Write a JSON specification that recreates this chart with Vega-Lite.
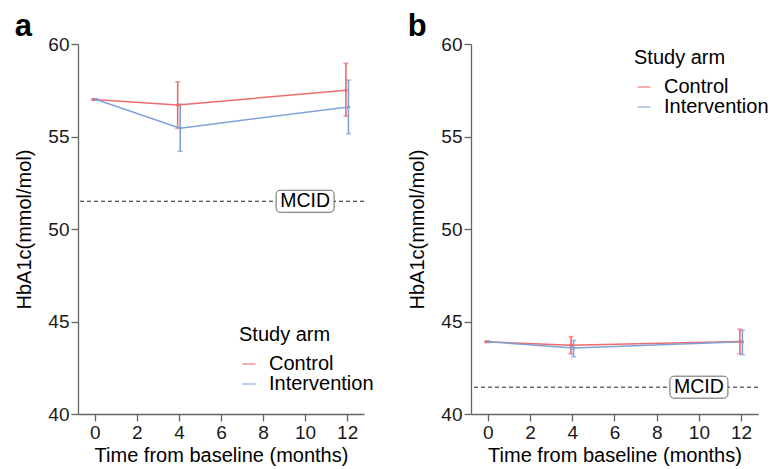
{
  "$schema": "https://vega.github.io/schema/vega-lite/v6.json",
  "background": "white",
  "padding": {"left": 14, "top": 11, "right": 5, "bottom": 5},
  "datasets": {
    "arms": [
      {"panel": "a", "arm": "Control", "time": 0, "mean": 57.0, "lo": 57.0, "hi": 57.0},
      {"panel": "a", "arm": "Control", "time": 4, "mean": 56.7, "lo": 55.45, "hi": 57.95},
      {"panel": "a", "arm": "Control", "time": 12, "mean": 57.5, "lo": 56.1, "hi": 58.95},
      {"panel": "a", "arm": "Intervention", "time": 0, "mean": 57.0, "lo": 57.0, "hi": 57.0},
      {"panel": "a", "arm": "Intervention", "time": 4, "mean": 55.45, "lo": 54.2, "hi": 56.75},
      {"panel": "a", "arm": "Intervention", "time": 12, "mean": 56.6, "lo": 55.15, "hi": 58.05},
      {"panel": "b", "arm": "Control", "time": 0, "mean": 43.9, "lo": 43.9, "hi": 43.9},
      {"panel": "b", "arm": "Control", "time": 4, "mean": 43.72, "lo": 43.25, "hi": 44.18},
      {"panel": "b", "arm": "Control", "time": 12, "mean": 43.92, "lo": 43.25, "hi": 44.58},
      {"panel": "b", "arm": "Intervention", "time": 0, "mean": 43.9, "lo": 43.9, "hi": 43.9},
      {"panel": "b", "arm": "Intervention", "time": 4, "mean": 43.57, "lo": 43.1, "hi": 43.98},
      {"panel": "b", "arm": "Intervention", "time": 12, "mean": 43.9, "lo": 43.2, "hi": 44.52}
    ],
    "mcid": [
      {"panel": "a", "value": 51.5, "lx": 10, "label": "MCID"},
      {"panel": "b", "value": 41.45, "lx": 10, "label": "MCID"}
    ]
  },
  "config": {
    "font": "Liberation Sans",
    "view": {"stroke": null},
    "axis": {
      "grid": false,
      "domainColor": "#666666",
      "domainWidth": 1.3,
      "tickColor": "#666666",
      "tickWidth": 1.3,
      "tickSize": 7,
      "labelFontSize": 19,
      "labelColor": "#1a1a1a",
      "labelPadding": 2,
      "titleFontSize": 20,
      "titleFontWeight": "normal",
      "titleColor": "#000000"
    },
    "legend": {
      "labelFontSize": 20,
      "titleFontSize": 20,
      "titleFontWeight": "normal",
      "labelColor": "#000000",
      "titleColor": "#000000",
      "titlePadding": 9,
      "rowPadding": -1,
      "labelOffset": 10
    },
    "title": {"fontSize": 31, "fontWeight": "bold", "anchor": "start", "frame": "bounds", "offset": -8, "color": "#000000"},
    "concat": {"spacing": 33}
  },
  "resolve": {"scale": {"color": "independent"}, "legend": {"color": "independent"}},
  "hconcat": [
    {
      "title": "a",
      "width": 286,
      "height": 370,
      "layer": [
        {
          "data": {"name": "mcid"},
          "transform": [{"filter": "datum.panel === 'a'"}],
          "mark": {"type": "rule", "strokeDash": [4, 3], "color": "#222222", "strokeWidth": 1},
          "encoding": {
            "y": {"field": "value", "type": "quantitative", "title": "HbA1c(mmol/mol)", "scale": {"domain": [40, 60], "nice": false, "zero": false}, "axis": {"values": [40, 45, 50, 55, 60], "titlePadding": 13}}
          }
        },
        {
          "data": {"name": "mcid"},
          "transform": [{"filter": "datum.panel === 'a'"}],
          "mark": {"type": "rect", "width": 58, "height": 22, "fill": "white", "stroke": "#666666", "strokeWidth": 1, "cornerRadius": 4},
          "encoding": {
            "x": {"field": "lx", "type": "quantitative", "title": "Time from baseline (months)"},
            "y": {"field": "value", "type": "quantitative", "title": "HbA1c(mmol/mol)"}
          }
        },
        {
          "data": {"name": "mcid"},
          "transform": [{"filter": "datum.panel === 'a'"}],
          "mark": {"type": "text", "fontSize": 19.5, "color": "#000000", "align": "center", "baseline": "middle"},
          "encoding": {
            "x": {"field": "lx", "type": "quantitative", "title": "Time from baseline (months)"},
            "y": {"field": "value", "type": "quantitative", "title": "HbA1c(mmol/mol)"},
            "text": {"field": "label"}
          }
        },
        {
          "data": {"name": "arms"},
          "transform": [{"filter": "datum.panel === 'a'"}, {"calculate": "datum.time + (datum.arm === 'Control' ? -0.06 : 0.06)", "as": "tx"}],
          "layer": [
            {
              "mark": {"type": "errorbar", "ticks": {"size": 5}, "thickness": 1.6},
              "encoding": {
                "x": {"field": "tx", "type": "quantitative", "title": "Time from baseline (months)", "scale": {"domain": [-0.8, 12.8], "nice": false, "zero": false}, "axis": {"values": [0, 2, 4, 6, 8, 10, 12], "titlePadding": 3}},
                "y": {"field": "lo", "type": "quantitative", "title": "HbA1c(mmol/mol)"},
                "y2": {"field": "hi"},
                "color": {"field": "arm", "type": "nominal", "scale": {"domain": ["Control", "Intervention"], "range": ["#EE6B6E", "#7FA2D8"]}, "legend": {"title": "Study arm", "orient": "none", "legendX": 161, "legendY": 281, "symbolType": "stroke", "symbolStrokeWidth": 1.5, "symbolSize": 170}}
              }
            },
            {
              "mark": {"type": "line", "strokeWidth": 1.5},
              "encoding": {
                "x": {"field": "tx", "type": "quantitative", "title": "Time from baseline (months)"},
                "y": {"field": "mean", "type": "quantitative", "title": "HbA1c(mmol/mol)"},
                "color": {"field": "arm", "type": "nominal"}
              }
            },
            {
              "mark": {"type": "point", "filled": true, "size": 12, "opacity": 1},
              "encoding": {
                "x": {"field": "tx", "type": "quantitative", "title": "Time from baseline (months)"},
                "y": {"field": "mean", "type": "quantitative", "title": "HbA1c(mmol/mol)"},
                "color": {"field": "arm", "type": "nominal"}
              }
            }
          ]
        }
      ]
    },
    {
      "title": "b",
      "width": 287,
      "height": 370,
      "layer": [
        {
          "data": {"name": "mcid"},
          "transform": [{"filter": "datum.panel === 'b'"}],
          "mark": {"type": "rule", "strokeDash": [4, 3], "color": "#222222", "strokeWidth": 1},
          "encoding": {
            "y": {"field": "value", "type": "quantitative", "title": "HbA1c(mmol/mol)", "scale": {"domain": [40, 60], "nice": false, "zero": false}, "axis": {"values": [40, 45, 50, 55, 60], "titlePadding": 13}}
          }
        },
        {
          "data": {"name": "mcid"},
          "transform": [{"filter": "datum.panel === 'b'"}],
          "mark": {"type": "rect", "width": 58, "height": 22, "fill": "white", "stroke": "#666666", "strokeWidth": 1, "cornerRadius": 4},
          "encoding": {
            "x": {"field": "lx", "type": "quantitative", "title": "Time from baseline (months)"},
            "y": {"field": "value", "type": "quantitative", "title": "HbA1c(mmol/mol)"}
          }
        },
        {
          "data": {"name": "mcid"},
          "transform": [{"filter": "datum.panel === 'b'"}],
          "mark": {"type": "text", "fontSize": 19.5, "color": "#000000", "align": "center", "baseline": "middle"},
          "encoding": {
            "x": {"field": "lx", "type": "quantitative", "title": "Time from baseline (months)"},
            "y": {"field": "value", "type": "quantitative", "title": "HbA1c(mmol/mol)"},
            "text": {"field": "label"}
          }
        },
        {
          "data": {"name": "arms"},
          "transform": [{"filter": "datum.panel === 'b'"}, {"calculate": "datum.time + (datum.arm === 'Control' ? -0.06 : 0.06)", "as": "tx"}],
          "layer": [
            {
              "mark": {"type": "errorbar", "ticks": {"size": 5}, "thickness": 1.6},
              "encoding": {
                "x": {"field": "tx", "type": "quantitative", "title": "Time from baseline (months)", "scale": {"domain": [-0.8, 12.8], "nice": false, "zero": false}, "axis": {"values": [0, 2, 4, 6, 8, 10, 12], "titlePadding": 3}},
                "y": {"field": "lo", "type": "quantitative", "title": "HbA1c(mmol/mol)"},
                "y2": {"field": "hi"},
                "color": {"field": "arm", "type": "nominal", "scale": {"domain": ["Control", "Intervention"], "range": ["#EE6B6E", "#7FA2D8"]}, "legend": {"title": "Study arm", "orient": "none", "legendX": 163, "legendY": 4, "symbolType": "stroke", "symbolStrokeWidth": 1.5, "symbolSize": 170}}
              }
            },
            {
              "mark": {"type": "line", "strokeWidth": 1.5},
              "encoding": {
                "x": {"field": "tx", "type": "quantitative", "title": "Time from baseline (months)"},
                "y": {"field": "mean", "type": "quantitative", "title": "HbA1c(mmol/mol)"},
                "color": {"field": "arm", "type": "nominal"}
              }
            },
            {
              "mark": {"type": "point", "filled": true, "size": 12, "opacity": 1},
              "encoding": {
                "x": {"field": "tx", "type": "quantitative", "title": "Time from baseline (months)"},
                "y": {"field": "mean", "type": "quantitative", "title": "HbA1c(mmol/mol)"},
                "color": {"field": "arm", "type": "nominal"}
              }
            }
          ]
        }
      ]
    }
  ]
}
